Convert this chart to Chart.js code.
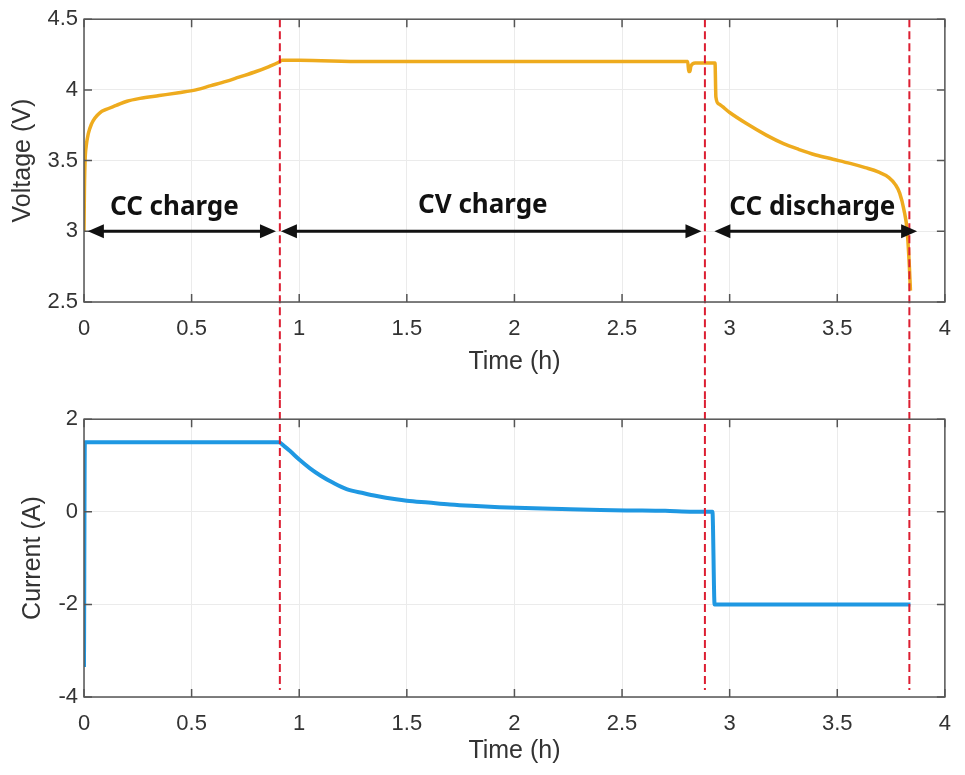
<!DOCTYPE html>
<html>
<head>
<meta charset="utf-8">
<script src="https://cdn.jsdelivr.net/npm/chart.js@4/dist/chart.umd.min.js"></script>
<style>
    body { margin: 0; background: #fff; }
    canvas { position: absolute; left: 0; }
    #voltChart { top: 0; }
    #currChart { top: 400px; }
</style>
</head>
<body>
<canvas id="voltChart" width="965" height="400"></canvas>
<canvas id="currChart" width="965" height="375"></canvas>
<script>
// voltage trace (h, V)
const voltTime = [0, 0.002, 0.005, 0.01, 0.02, 0.035, 0.05, 0.075, 0.1, 0.15, 0.2, 0.26, 0.35, 0.44, 0.52,
    0.59, 0.66, 0.72, 0.8, 0.86, 0.905, 0.92, 1.0, 1.3, 1.8, 2.3, 2.7, 2.805, 2.81, 2.815, 2.82, 2.84, 2.9,
    2.928, 2.932, 2.936, 2.95, 3.0, 3.08, 3.17, 3.25, 3.32, 3.4, 3.48, 3.56, 3.63, 3.69, 3.74, 3.77, 3.79,
    3.81, 3.825, 3.835, 3.84];
const voltValues = [3.0, 3.3, 3.5, 3.6, 3.69, 3.76, 3.8, 3.84, 3.86, 3.89, 3.92, 3.94, 3.96, 3.98, 4.0,
    4.03, 4.06, 4.09, 4.13, 4.165, 4.195, 4.21, 4.21, 4.2, 4.2, 4.2, 4.2, 4.2, 4.13, 4.13, 4.17, 4.19, 4.19,
    4.19, 4.19, 3.95, 3.9, 3.84, 3.76, 3.68, 3.62, 3.58, 3.54, 3.51, 3.48, 3.45, 3.42, 3.38, 3.33, 3.27,
    3.15, 3.0, 2.75, 2.58];

// current trace (h, A)
const currTime = [0, 0.004, 0.008, 0.5, 0.905, 0.93, 0.96, 1.0, 1.05, 1.1, 1.16, 1.22, 1.3, 1.36, 1.45, 1.5,
    1.6, 1.7, 1.8, 1.93, 2.05, 2.22, 2.4, 2.52, 2.7, 2.83, 2.92, 2.93, 3.2, 3.5, 3.84];
const currValues = [-3.35, 1.5, 1.5, 1.5, 1.5, 1.42, 1.3, 1.13, 0.94, 0.78, 0.62, 0.49, 0.4, 0.34, 0.27, 0.24,
    0.2, 0.16, 0.13, 0.1, 0.08, 0.06, 0.04, 0.03, 0.02, 0.0, 0.0, -2.0, -2.0, -2.0, -2.0];

const xTickLabels = ['0', '0.5', '1', '1.5', '2', '2.5', '3', '3.5', '4'];
const voltTickLabels = ['2.5', '3', '3.5', '4', '4.5'];
const currTickLabels = ['-4', '-2', '0', '2'];

// phase boundaries and annotations
const boundaries = [0.91, 2.885, 3.835];
const phaseNames = ['CC charge', 'CV charge', 'CC discharge'];
const phaseLabelX = [0.42, 1.853, 3.384];
const phaseLabelY = [3.165, 3.18, 3.165];
const arrowFrom = [0.018, 0.915, 2.929];
const arrowTo = [0.892, 2.869, 3.871];
const arrowY = 3.0;

const FONT = "'Liberation Sans', Arial, sans-serif";

function toPoints(xs, ys) {
    return xs.map((x, i) => ({ x: x, y: ys[i] }));
}

const boxPlugin = {
    id: 'matlabBox',
    afterDraw(chart) {
        const { ctx, chartArea: a, scales } = chart;
        ctx.save();
        ctx.strokeStyle = '#555';
        ctx.lineWidth = 1.5;
        ctx.strokeRect(a.left, a.top, a.right - a.left, a.bottom - a.top);
        ctx.beginPath();
        scales.x.ticks.forEach(t => {
            const px = scales.x.getPixelForValue(t.value);
            ctx.moveTo(px, a.bottom); ctx.lineTo(px, a.bottom - 8);
            ctx.moveTo(px, a.top); ctx.lineTo(px, a.top + 8);
        });
        scales.y.ticks.forEach(t => {
            const py = scales.y.getPixelForValue(t.value);
            ctx.moveTo(a.left, py); ctx.lineTo(a.left + 8, py);
            ctx.moveTo(a.right, py); ctx.lineTo(a.right - 8, py);
        });
        ctx.stroke();
        ctx.restore();
    }
};

function boundaryPlugin(fromTop, toBottom) {
    return {
        id: 'boundaries',
        afterDatasetsDraw(chart) {
            const { ctx, chartArea: a, scales: { x } } = chart;
            const y0 = fromTop ? a.top : 0;
            const y1 = toBottom ? chart.height : a.bottom - 7;
            ctx.save();
            ctx.strokeStyle = '#dc1e32';
            ctx.lineWidth = 2;
            ctx.setLineDash([8, 4]);
            boundaries.forEach(b => {
                const px = x.getPixelForValue(b);
                ctx.beginPath();
                ctx.moveTo(px, y0);
                ctx.lineTo(px, y1);
                ctx.stroke();
            });
            ctx.restore();
        }
    };
}

const phasePlugin = {
    id: 'phases',
    afterDraw(chart) {
        const { ctx, scales: { x, y } } = chart;
        ctx.save();
        ctx.fillStyle = '#111';
        ctx.strokeStyle = '#111';
        ctx.lineWidth = 3;
        const py = y.getPixelForValue(arrowY);
        const head = 16, half = 7;
        arrowFrom.forEach((from, i) => {
            const x1 = x.getPixelForValue(from);
            const x2 = x.getPixelForValue(arrowTo[i]);
            ctx.beginPath();
            ctx.moveTo(x1 + head - 2, py);
            ctx.lineTo(x2 - head + 2, py);
            ctx.stroke();
            ctx.beginPath();
            ctx.moveTo(x1, py); ctx.lineTo(x1 + head, py - half); ctx.lineTo(x1 + head, py + half);
            ctx.closePath();
            ctx.moveTo(x2, py); ctx.lineTo(x2 - head, py - half); ctx.lineTo(x2 - head, py + half);
            ctx.closePath();
            ctx.fill();
        });
        ctx.font = "bold 26px 'Noto Sans', sans-serif";
        ctx.textAlign = 'center';
        ctx.textBaseline = 'middle';
        phaseNames.forEach((name, i) => {
            ctx.fillText(name, x.getPixelForValue(phaseLabelX[i]), y.getPixelForValue(phaseLabelY[i]));
        });
        ctx.restore();
    }
};

function axisOptions(yMin, yMax, yStep, yLabels, yTitle, yTitlePad, xHeight, xTitlePad) {
    return {
        x: {
            type: 'linear', min: 0, max: 4,
            afterFit(scale) { scale.height = xHeight; },
            grid: { color: '#ebebeb', drawTicks: false },
            border: { display: false },
            ticks: {
                stepSize: 0.5, padding: 14, autoSkip: false, maxRotation: 0,
                color: '#333', font: { family: FONT, size: 22 },
                callback: (v, i) => xTickLabels[i]
            },
            title: {
                display: true, text: 'Time (h)', color: '#333',
                font: { family: FONT, size: 25, lineHeight: 1.2 },
                padding: { top: 0, bottom: xTitlePad }
            }
        },
        y: {
            min: yMin, max: yMax,
            afterFit(scale) { scale.width = 84; },
            grid: { color: '#ebebeb', drawTicks: false },
            border: { display: false },
            ticks: {
                stepSize: yStep, padding: 6,
                color: '#333', font: { family: FONT, size: 22 },
                callback: (v, i) => yLabels[i]
            },
            title: {
                display: true, text: yTitle, color: '#333',
                font: { family: FONT, size: 25, lineHeight: 1.2 },
                padding: { top: yTitlePad, bottom: 0 }
            }
        }
    };
}

new Chart(document.getElementById('voltChart').getContext('2d'), {
    type: 'line',
    data: {
        datasets: [{
            data: toPoints(voltTime, voltValues),
            borderColor: '#eeab1e',
            borderWidth: 3.5,
            pointRadius: 0,
            cubicInterpolationMode: 'monotone',
            fill: false
        }]
    },
    options: {
        responsive: false,
        animation: false,
        layout: { padding: { top: 16, right: 11, left: 0, bottom: 0 } },
        plugins: { legend: { display: false }, tooltip: { enabled: false } },
        scales: axisOptions(2.5, 4.5, 0.5, voltTickLabels, 'Voltage (V)', 8, 98, 23)
    },
    plugins: [boundaryPlugin(true, true), boxPlugin, phasePlugin]
});

new Chart(document.getElementById('currChart').getContext('2d'), {
    type: 'line',
    data: {
        datasets: [{
            data: toPoints(currTime, currValues),
            borderColor: '#1f98e2',
            borderWidth: 4,
            pointRadius: 0,
            cubicInterpolationMode: 'monotone',
            fill: false
        }]
    },
    options: {
        responsive: false,
        animation: false,
        layout: { padding: { top: 15, right: 11, left: 0, bottom: 0 } },
        plugins: { legend: { display: false }, tooltip: { enabled: false } },
        scales: axisOptions(-4, 2, 2, currTickLabels, 'Current (A)', 18, 78, 9)
    },
    plugins: [boundaryPlugin(false, false), boxPlugin]
});
</script>
</body>
</html>
